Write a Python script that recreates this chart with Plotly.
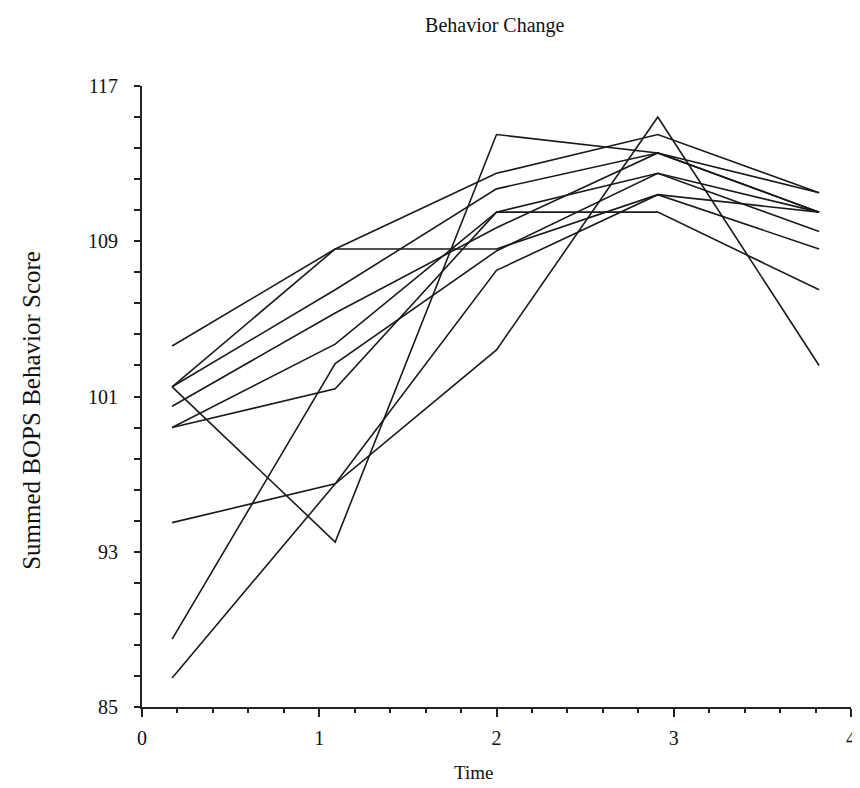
import plotly.graph_objects as go

times = [0.17, 1.09, 2.0, 2.91, 3.82]

subjects = {
    "S1": [103.6, 108.6, 112.5, 114.5, 111.5],
    "S2": [101.5, 108.6, 108.6, 111.4, 110.5],
    "S3": [101.5, 106.5, 111.7, 113.55, 111.5],
    "S4": [100.5, 105.3, 109.7, 113.55, 110.5],
    "S5": [99.4, 103.7, 110.5, 112.5, 109.5],
    "S6": [99.4, 101.4, 110.5, 110.5, 106.5],
    "S7": [101.5, 93.5, 114.5, 113.55, 110.5],
    "S8": [94.5, 96.5, 103.4, 115.4, 102.6],
    "S9": [88.5, 102.7, 108.5, 112.5, 110.5],
    "S10": [86.5, 96.5, 107.5, 111.4, 108.6],
}

y_ticks = [85, 93, 101, 109, 117]
x_ticks = [0, 1, 2, 3, 4]

title_text = "Behavior Change"
x_title = "Time"
y_title = "Summed BOPS Behavior Score"

font_family = "Liberation Serif, Times New Roman, serif"

fig = go.Figure()
for name, vals in subjects.items():
    fig.add_trace(go.Scatter(
        x=times, y=vals, mode="lines", name=name,
        line=dict(color="#1a1a1a", width=1.6),
        showlegend=False,
    ))

fig.update_layout(
    width=860, height=788,
    paper_bgcolor="white", plot_bgcolor="white",
    margin=dict(l=134, r=12, t=78, b=89),
    title=dict(text=title_text, x=0.566, xref="container", xanchor="center",
               y=0.979, yref="container", yanchor="middle",
               font=dict(family=font_family, size=20, color="#111")),
    font=dict(family=font_family, color="#111"),
    annotations=[
        dict(text=x_title, xref="paper", yref="paper", x=(468 - 134) / 714, y=-(772 - 707) / 621,
             xanchor="center", yanchor="middle", showarrow=False,
             font=dict(family=font_family, size=19, color="#111")),
        dict(text=y_title, xref="paper", yref="paper", x=-(134 - 22) / 714, y=(699 - 402) / 621,
             xanchor="center", yanchor="middle", showarrow=False, textangle=-90,
             font=dict(family=font_family, size=25, color="#111")),
    ],
)

fig.update_xaxes(
    range=[0, 4], tickmode="array", tickvals=x_ticks, ticktext=[str(v) for v in x_ticks],
    showgrid=False, zeroline=False,
    showline=True, linecolor="#222", linewidth=2,
    ticks="outside", ticklen=8, tickwidth=2, tickcolor="#222",
    tickfont=dict(family=font_family, size=20, color="#111"),
    ticklabelstandoff=4,
    minor=dict(dtick=0.2, tick0=0, ticks="outside", ticklen=4, tickwidth=1.5, tickcolor="#222", showgrid=False),
)
fig.update_yaxes(
    range=[85, 117], tickmode="array", tickvals=y_ticks, ticktext=[str(v) for v in y_ticks],
    showgrid=False, zeroline=False,
    showline=True, linecolor="#222", linewidth=2,
    ticks="outside", ticklen=6, tickwidth=2, tickcolor="#222",
    tickfont=dict(family=font_family, size=20, color="#111"),
    ticklabelstandoff=12,
    minor=dict(dtick=1.6, tick0=85, ticks="outside", ticklen=6, tickwidth=1.5, tickcolor="#222", showgrid=False),
)

fig.write_html("out.html")
